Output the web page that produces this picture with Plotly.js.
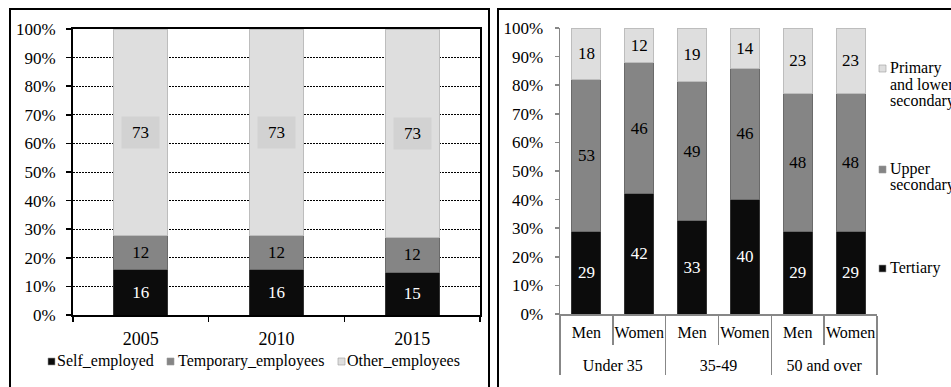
<!DOCTYPE html>
<html>
<head>
<meta charset="utf-8">
<script src="https://cdn.plot.ly/plotly-3.0.1.min.js"></script>
<style>
  html, body { margin: 0; padding: 0; background: #fff; }
  #chart { width: 951px; height: 387px; }
</style>
</head>
<body>
<div id="chart"></div>
<script>
// Employment status by year (shares of total, %)
const years = ['2005', '2010', '2015'];
const selfEmployed = [16, 16, 15];
const temporaryEmployees = [12, 12, 12];
const otherEmployees = [73, 73, 73];

// Educational attainment by age group and sex (%)
const ageGroups = ['Under 35', 'Under 35', '35-49', '35-49', '50 and over', '50 and over'];
const sexes = ['Men', 'Women', 'Men', 'Women', 'Men', 'Women'];
const tertiary = [29, 42, 33, 40, 29, 29];
const upperSecondary = [53, 46, 49, 46, 48, 48];
const primaryLower = [18, 12, 19, 14, 23, 23];

const FONT = 'Liberation Serif, Times New Roman, serif';
const W = 951, H = 387;
const px = v => v / W;
const py = v => 1 - v / H;

const BLACK = '#0c0c0c', MID = '#858585', LIGHT = '#dedede';
const AXIS_GRAY = '#878787';

function barTrace(name, x, y, color, lineColor, textColor, xa, ya, width, showText) {
  return {
    type: 'bar', name: name, x: x, y: y,
    xaxis: xa, yaxis: ya, width: width, showlegend: false,
    marker: { color: color, line: { color: lineColor, width: 1 } },
    text: showText ? y.map(String) : undefined,
    texttemplate: showText ? '%{text}' : undefined,
    textposition: showText ? 'inside' : 'none',
    insidetextanchor: 'middle',
    constraintext: 'none',
    textfont: { family: FONT, size: 17, color: textColor },
    hoverinfo: 'skip'
  };
}

// Two-level category axis: sex on the first row, age group below it.
// A tiny blank second line on the first row leaves room between the two rows.
const multiX = [ageGroups, sexes.map(s => s + '<br><span style="font-size:1px">&nbsp;</span>')];

const traces = [
  barTrace('Self_employed', years, selfEmployed, BLACK, '#333', '#fff', 'x', 'y', 0.4, true),
  barTrace('Temporary_employees', years, temporaryEmployees, MID, '#6a6a6a', '#000', 'x', 'y', 0.4, true),
  barTrace('Other_employees', years, otherEmployees, LIGHT, '#bdbdbd', '#000', 'x', 'y', 0.4, false),
  barTrace('Tertiary', multiX, tertiary, BLACK, '#333', '#fff', 'x2', 'y2', 0.55, true),
  barTrace('Upper<br>secondary', multiX, upperSecondary, MID, '#6a6a6a', '#000', 'x2', 'y2', 0.55, true),
  barTrace('Primary<br>and lower<br>secondary', multiX, primaryLower, LIGHT, '#bdbdbd', '#000', 'x2', 'y2', 0.55, true)
];

// Labels of the top segment sit on a shaded box, centred on the segment
const annotations = years.map((yr, i) => {
  const total = selfEmployed[i] + temporaryEmployees[i] + otherEmployees[i];
  const mid = (selfEmployed[i] + temporaryEmployees[i] + otherEmployees[i] / 2) / total * 100;
  return {
    xref: 'x', yref: 'y', x: i, y: mid, text: String(otherEmployees[i]),
    showarrow: false, bgcolor: '#d2d2d2', width: 35, height: 29,
    font: { family: FONT, size: 17, color: '#000' }
  };
});

const shapes = [
  // panel frames
  { type: 'rect', xref: 'paper', yref: 'paper', x0: px(10), x1: px(489), y0: -0.1, y1: py(9),
    line: { color: '#000', width: 2 }, fillcolor: 'rgba(0,0,0,0)', layer: 'above' },
  { type: 'rect', xref: 'paper', yref: 'paper', x0: px(498), x1: 1.1, y0: -0.1, y1: py(9),
    line: { color: '#000', width: 2 }, fillcolor: 'rgba(0,0,0,0)', layer: 'above' }
];

// Legend keys: a small swatch in the series colour followed by its name
function addLegendEntry(trace, iconX, textX, firstLineY, lineStep) {
  const lines = trace.name.split('<br>');
  lines.forEach((ln, k) => {
    annotations.push({
      xref: 'paper', yref: 'paper', x: px(textX - 2), y: py(firstLineY + k * lineStep),
      xanchor: 'left', yanchor: 'middle', showarrow: false, text: ln,
      font: { family: FONT, size: 16, color: '#000' }
    });
  });
  shapes.push({
    type: 'rect', xref: 'paper', yref: 'paper',
    x0: px(iconX), x1: px(iconX + 7), y0: py(firstLineY + 4), y1: py(firstLineY - 3),
    fillcolor: trace.marker.color, line: { color: '#9a9a9a', width: 0.6 }, layer: 'above'
  });
}

addLegendEntry(traces[0], 48, 57, 361, 0);
addLegendEntry(traces[1], 167, 178, 361, 0);
addLegendEntry(traces[2], 338, 347, 361, 0);
addLegendEntry(traces[5], 879, 890, 68, 16.3);
addLegendEntry(traces[4], 879, 890, 169, 16.3);
addLegendEntry(traces[3], 879, 890, 268, 16.3);

const layout = {
  width: W, height: H,
  margin: { l: 0, r: 0, t: 0, b: 0, autoexpand: false },
  paper_bgcolor: '#fff', plot_bgcolor: '#fff',
  font: { family: FONT, size: 16, color: '#000' },
  barmode: 'stack', barnorm: 'percent',
  showlegend: false,
  xaxis: {
    domain: [px(73), px(480)], anchor: 'y', type: 'category',
    categoryorder: 'array', categoryarray: years,
    autorange: false, range: [-0.5, 2.5], tickangle: 0,
    showline: true, linecolor: '#000', linewidth: 2, mirror: true,
    ticks: 'outside', tickson: 'boundaries', ticklen: 5, tickwidth: 1.5, tickcolor: '#000',
    tickfont: { family: FONT, size: 18 }, ticklabelstandoff: 6,
    showgrid: false, zeroline: false, automargin: false, fixedrange: true
  },
  yaxis: {
    domain: [py(315), py(29)], anchor: 'x', range: [0, 100],
    tickmode: 'linear', tick0: 0, dtick: 10, ticksuffix: '%',
    showline: true, linecolor: '#000', linewidth: 2, mirror: true,
    ticks: 'outside', ticklen: 5, tickwidth: 1.5, tickcolor: '#000',
    tickfont: { family: FONT, size: 17 }, ticklabelstandoff: 7,
    showgrid: true, gridcolor: '#000', gridwidth: 1, griddash: '2px,1px',
    zeroline: false, automargin: false, fixedrange: true
  },
  xaxis2: {
    domain: [px(560), px(877)], anchor: 'y2', type: 'multicategory',
    autorange: false, range: [-0.5, 5.5], tickangle: 0,
    showline: true, linecolor: AXIS_GRAY, linewidth: 1.5,
    ticks: 'outside', ticklen: 29, tickwidth: 1.5, tickcolor: AXIS_GRAY,
    ticklabelstandoff: 3,
    showdividers: true, dividercolor: AXIS_GRAY, dividerwidth: 1.5,
    tickfont: { family: FONT, size: 16 },
    showgrid: false, zeroline: false, automargin: false, fixedrange: true
  },
  yaxis2: {
    domain: [py(314), py(28)], anchor: 'x2', range: [0, 100],
    tickmode: 'linear', tick0: 0, dtick: 10, ticksuffix: '%',
    showline: true, linecolor: AXIS_GRAY, linewidth: 1.5,
    ticks: 'outside', ticklen: 4, tickwidth: 1.5, tickcolor: AXIS_GRAY,
    tickfont: { family: FONT, size: 17 }, ticklabelstandoff: 8,
    showgrid: false, zeroline: false, automargin: false, fixedrange: true
  },
  annotations: annotations,
  shapes: shapes,
  hovermode: false
};

Plotly.newPlot('chart', traces, layout, { staticPlot: true, displayModeBar: false });
</script>
</body>
</html>
